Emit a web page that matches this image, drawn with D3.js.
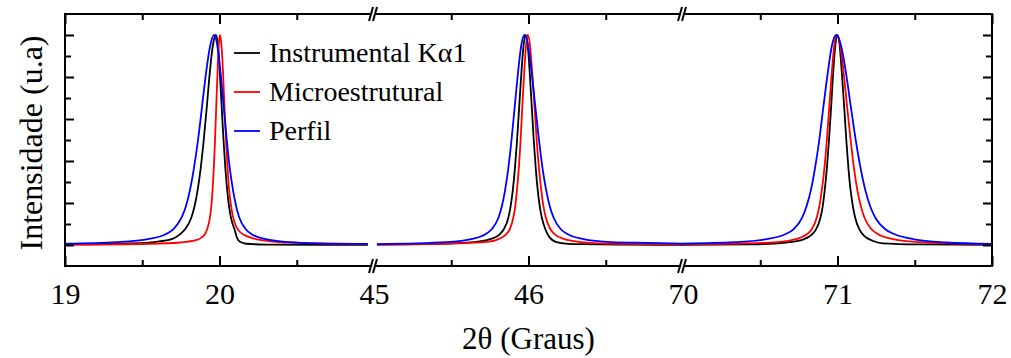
<!DOCTYPE html>
<html>
<head>
<meta charset="utf-8">
<script src="https://cdn.jsdelivr.net/npm/d3@7"></script>
<style>
  body { margin: 0; background: #fff; }
  svg { display: block; font-family: "Liberation Serif", "Times New Roman", serif; }
</style>
</head>
<body>
<svg id="chart" width="1011" height="358"></svg>
<script>
// broken x axis: three windows of 2θ
const segments = [[19, 21], [45, 47], [70, 72]];
const majorTicks = [19, 20, 45, 46, 70, 71, 72];
const minorTicks = [19.5, 20.5, 45.5, 46.5, 70.5, 71.5];
const yMajor = [0, 0.2, 0.4, 0.6, 0.8, 1.0];
const yMinor = [0.1, 0.3, 0.5, 0.7, 0.9];

const seriesNames = ['Instrumental Kα1', 'Microestrutural', 'Perfil'];
const seriesColors = ['#000000', '#ff0000', '#0000ff'];

// [2θ, intensity], one array per peak window
const instrumental = [
  [[19.000, 0.003], [19.356, 0.006], [19.589, 0.015], [19.699, 0.03], [19.739, 0.048], [19.778, 0.076],
   [19.818, 0.131], [19.838, 0.183], [19.858, 0.259], [19.878, 0.364], [19.898, 0.5], [19.918, 0.659],
   [19.937, 0.82], [19.957, 0.95], [19.977, 1.0], [19.990, 0.95], [20.002, 0.82], [20.014, 0.659],
   [20.026, 0.5], [20.038, 0.364], [20.050, 0.259], [20.062, 0.183], [20.074, 0.131], [20.099, 0.07],
   [20.113, 0.035], [20.133, 0.015], [20.172, 0.006], [20.301, 0.002], [20.960, 0.001]],
  [[45.019, 0.002], [45.419, 0.005], [45.646, 0.0135], [45.757, 0.029], [45.814, 0.051], [45.841, 0.076],
   [45.870, 0.131], [45.884, 0.183], [45.898, 0.259], [45.912, 0.364], [45.926, 0.5], [45.940, 0.66],
   [45.954, 0.82], [45.968, 0.95], [45.982, 1.0], [45.995, 0.95], [46.008, 0.82], [46.021, 0.66],
   [46.034, 0.5], [46.047, 0.364], [46.060, 0.259], [46.073, 0.183], [46.086, 0.131], [46.112, 0.07],
   [46.138, 0.035], [46.176, 0.015], [46.241, 0.007], [46.338, 0.004], [46.629, 0.002], [47.000, 0.001]],
  [[70.000, 0.001], [70.424, 0.003], [70.670, 0.012], [70.780, 0.027], [70.835, 0.051], [70.862, 0.076],
   [70.890, 0.131], [70.904, 0.183], [70.917, 0.259], [70.931, 0.364], [70.945, 0.5], [70.959, 0.66],
   [70.972, 0.82], [70.986, 0.95], [71.000, 1.0], [71.014, 0.95], [71.028, 0.82], [71.043, 0.66],
   [71.057, 0.5], [71.071, 0.364], [71.085, 0.259], [71.100, 0.183], [71.114, 0.131], [71.142, 0.074],
   [71.171, 0.045], [71.227, 0.02], [71.291, 0.008], [71.524, 0.003], [72.000, 0.001]]
];

const microestrutural = [
  [[19.000, 0.002], [19.550, 0.006], [19.744, 0.012], [19.854, 0.024], [19.880, 0.034], [19.906, 0.052],
   [19.922, 0.08], [19.939, 0.135], [19.947, 0.185], [19.955, 0.26], [19.963, 0.364], [19.971, 0.5],
   [19.979, 0.66], [19.987, 0.82], [19.995, 0.95], [20.003, 1.0], [20.013, 0.95], [20.023, 0.82],
   [20.032, 0.66], [20.042, 0.5], [20.052, 0.37], [20.061, 0.27], [20.074, 0.19], [20.087, 0.135],
   [20.110, 0.085], [20.133, 0.062], [20.184, 0.04], [20.262, 0.024], [20.392, 0.014], [20.521, 0.01],
   [20.780, 0.006], [20.961, 0.004]],
  [[45.019, 0.002], [45.400, 0.005], [45.529, 0.008], [45.716, 0.0135], [45.809, 0.029], [45.855, 0.051],
   [45.879, 0.076], [45.902, 0.131], [45.914, 0.183], [45.925, 0.259], [45.937, 0.364], [45.949, 0.5],
   [45.960, 0.66], [45.972, 0.82], [45.984, 0.95], [45.995, 1.0], [46.010, 0.95], [46.024, 0.82],
   [46.039, 0.66], [46.053, 0.5], [46.068, 0.364], [46.083, 0.259], [46.097, 0.183], [46.112, 0.131],
   [46.141, 0.076], [46.170, 0.051], [46.228, 0.029], [46.345, 0.0135], [46.578, 0.005], [47.000, 0.003]],
  [[70.000, 0.004], [70.348, 0.007], [70.607, 0.0135], [70.737, 0.029], [70.801, 0.051], [70.834, 0.076],
   [70.866, 0.131], [70.882, 0.183], [70.898, 0.259], [70.915, 0.364], [70.931, 0.5], [70.947, 0.66],
   [70.963, 0.82], [70.979, 0.95], [70.995, 1.0], [71.018, 0.95], [71.040, 0.82], [71.062, 0.66],
   [71.085, 0.5], [71.107, 0.364], [71.129, 0.259], [71.152, 0.183], [71.174, 0.131], [71.219, 0.076],
   [71.263, 0.051], [71.353, 0.029], [71.531, 0.0135], [71.772, 0.007], [72.000, 0.004]]
];

const perfil = [
  [[19.000, 0.006], [19.333, 0.0135], [19.544, 0.029], [19.650, 0.051], [19.702, 0.076], [19.755, 0.131],
   [19.782, 0.183], [19.808, 0.259], [19.834, 0.364], [19.861, 0.5], [19.887, 0.659], [19.913, 0.82],
   [19.940, 0.95], [19.966, 1.0], [19.986, 0.95], [20.007, 0.82], [20.027, 0.659], [20.047, 0.5],
   [20.067, 0.364], [20.088, 0.259], [20.108, 0.183], [20.128, 0.131], [20.169, 0.076], [20.209, 0.051],
   [20.290, 0.029], [20.452, 0.0135], [20.614, 0.008], [20.961, 0.005]],
  [[45.019, 0.004], [45.469, 0.0135], [45.637, 0.029], [45.721, 0.051], [45.763, 0.076], [45.806, 0.131],
   [45.827, 0.183], [45.848, 0.259], [45.869, 0.364], [45.890, 0.5], [45.911, 0.66], [45.932, 0.82],
   [45.953, 0.95], [45.974, 1.0], [45.997, 0.95], [46.021, 0.82], [46.044, 0.66], [46.068, 0.5],
   [46.091, 0.364], [46.115, 0.259], [46.138, 0.183], [46.162, 0.131], [46.208, 0.076], [46.255, 0.051],
   [46.349, 0.029], [46.537, 0.0135], [46.776, 0.01], [47.000, 0.007]],
  [[70.000, 0.007], [70.331, 0.0135], [70.551, 0.029], [70.661, 0.051], [70.717, 0.076], [70.772, 0.131],
   [70.799, 0.183], [70.827, 0.259], [70.854, 0.364], [70.882, 0.5], [70.909, 0.66], [70.937, 0.82],
   [70.964, 0.95], [70.992, 1.0], [71.023, 0.95], [71.055, 0.82], [71.086, 0.66], [71.118, 0.5],
   [71.150, 0.364], [71.181, 0.259], [71.212, 0.183], [71.244, 0.131], [71.307, 0.076], [71.370, 0.051],
   [71.496, 0.027], [71.704, 0.012], [72.000, 0.005]]
];

const allSeries = [instrumental, microestrutural, perfil];

const svg = d3.select('#chart');
const margin = { top: 14, right: 19, bottom: 92, left: 65 };
const W = 1011, H = 358;
const plotL = margin.left, plotR = W - margin.right;
const plotT = margin.top, plotB = H - margin.bottom;
const segW = (plotR - plotL) / segments.length;

// piecewise linear scale, one flat joint at each break
const xDomain = [], xRange = [];
segments.forEach((s, i) => {
  xDomain.push(s[0], s[1]);
  xRange.push(plotL + i * segW, plotL + (i + 1) * segW);
});
const x = d3.scaleLinear().domain(xDomain).range(xRange);
const y = d3.scaleLinear().domain([-0.1, 1.1]).range([plotB, plotT]);

svg.append('defs').append('clipPath').attr('id', 'plot-clip')
  .append('rect').attr('x', plotL).attr('y', plotT).attr('width', plotR - plotL).attr('height', plotB - plotT);

const line = d3.line()
  .x(d => x(d[0]))
  .y(d => y(d[1]))
  .curve(d3.curveMonotoneX);

const plot = svg.append('g').attr('clip-path', 'url(#plot-clip)');
allSeries.forEach((peaks, i) => {
  plot.selectAll(null)
    .data(peaks)
    .join('path')
    .attr('d', line)
    .attr('fill', 'none')
    .attr('stroke', seriesColors[i])
    .attr('stroke-width', 1.8);
});

// axes, ticks pointing inward
function styleAxis(g) {
  g.select('.domain').remove();
  g.selectAll('.tick line').attr('stroke', '#000').attr('stroke-width', 2);
  g.selectAll('.tick text').attr('fill', '#000').attr('font-size', '30px')
    .attr('font-family', '"Liberation Serif", "Times New Roman", serif');
}
const breakVals = [segments[1][0], segments[2][0]];

const xb = svg.append('g').attr('transform', `translate(0,${plotB})`)
  .call(d3.axisBottom(x).tickValues(majorTicks).tickSize(-10).tickPadding(17).tickFormat(d3.format('d')))
  .call(styleAxis);
xb.selectAll('.tick').filter(d => breakVals.includes(d)).select('line').remove();
svg.append('g').attr('transform', `translate(0,${plotB})`)
  .call(d3.axisBottom(x).tickValues(minorTicks).tickSize(-6).tickFormat(''))
  .call(styleAxis);

const xt = svg.append('g').attr('transform', `translate(0,${plotT})`)
  .call(d3.axisTop(x).tickValues(majorTicks).tickSize(-10).tickFormat(''))
  .call(styleAxis);
xt.selectAll('.tick').filter(d => breakVals.includes(d)).select('line').remove();
svg.append('g').attr('transform', `translate(0,${plotT})`)
  .call(d3.axisTop(x).tickValues(minorTicks).tickSize(-6).tickFormat(''))
  .call(styleAxis);

svg.append('g').attr('transform', `translate(${plotL},0)`)
  .call(d3.axisLeft(y).tickValues(yMajor).tickSize(-9).tickFormat(''))
  .call(styleAxis);
svg.append('g').attr('transform', `translate(${plotL},0)`)
  .call(d3.axisLeft(y).tickValues(yMinor).tickSize(-6).tickFormat(''))
  .call(styleAxis);
svg.append('g').attr('transform', `translate(${plotR},0)`)
  .call(d3.axisRight(y).tickValues(yMajor).tickSize(-9).tickFormat(''))
  .call(styleAxis);
svg.append('g').attr('transform', `translate(${plotR},0)`)
  .call(d3.axisRight(y).tickValues(yMinor).tickSize(-6).tickFormat(''))
  .call(styleAxis);

// frame
svg.append('rect')
  .attr('x', plotL).attr('y', plotT).attr('width', plotR - plotL).attr('height', plotB - plotT)
  .attr('fill', 'none').attr('stroke', '#000').attr('stroke-width', 2);

// break marks "//" on top and bottom edges
breakVals.forEach(v => {
  const bx = x(v);
  [plotT, plotB].forEach(by => {
    const g = svg.append('g').attr('transform', `translate(${bx},${by})`);
    g.append('polygon').attr('points', '-4,7 0,7 4,-7 0,-7').attr('fill', '#fff');
    [-4, 0].forEach(dx => {
      g.append('line')
        .attr('x1', dx - 1).attr('y1', 7).attr('x2', dx + 3).attr('y2', -7)
        .attr('stroke', '#000').attr('stroke-width', 2);
    });
  });
});

// legend
const legend = svg.append('g').attr('transform', 'translate(234,53)');
seriesNames.forEach((name, i) => {
  const row = legend.append('g').attr('transform', `translate(0,${i * 39})`);
  row.append('line').attr('x1', 0).attr('x2', 26).attr('y1', 0).attr('y2', 0)
    .attr('stroke', seriesColors[i]).attr('stroke-width', 1.8);
  row.append('text').attr('x', 35).attr('y', 9).attr('font-size', '28px').attr('fill', '#000')
    .text(name);
});

// axis titles
svg.append('text')
  .attr('x', (plotL + plotR) / 2).attr('y', 349)
  .attr('text-anchor', 'middle').attr('font-size', '31px')
  .text('2θ (Graus)');
svg.append('text')
  .attr('transform', `translate(42,${(plotT + plotB) / 2 + 3}) rotate(-90)`)
  .attr('text-anchor', 'middle').attr('font-size', '32px')
  .text('Intensidade (u.a)');
</script>
</body>
</html>
